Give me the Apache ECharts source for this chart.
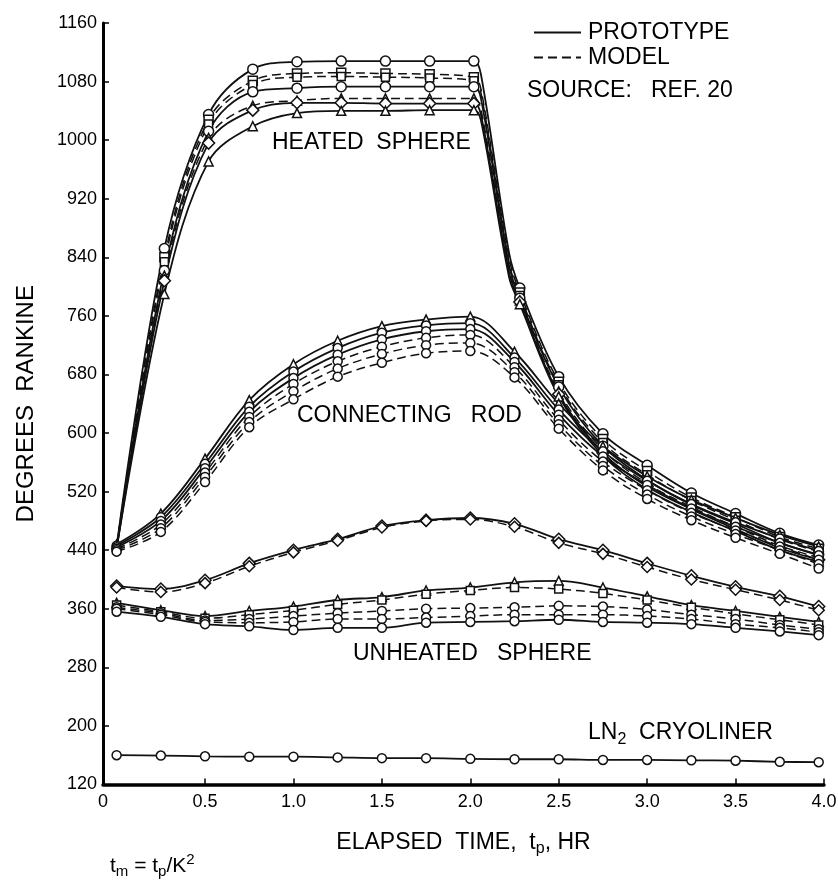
<!DOCTYPE html>
<html><head><meta charset="utf-8">
<script src="https://cdn.jsdelivr.net/npm/echarts@6/dist/echarts.min.js"></script>
<style>html,body{margin:0;padding:0;background:#fff}#c{width:838px;height:882px}</style>
</head><body><div id="c"></div>
<script>
// ---------- data ----------
const xTickValues = [-0.077, 0.5, 1.0, 1.5, 2.0, 2.5, 3.0, 3.5, 4.0];
const xTickLabels = ['0', '0.5', '1.0', '1.5', '2.0', '2.5', '3.0', '3.5', '4.0'];
const yTickValues = [120, 200, 280, 360, 440, 520, 600, 680, 760, 840, 920, 1000, 1080, 1160];

const times = [0, 0.25, 0.5, 0.75, 1.0, 1.25, 1.5, 1.75, 2.0, 2.25, 2.5, 2.75, 3.0, 3.25, 3.5, 3.75, 3.97];
const heatedTimes = [0, 0.27, 0.52, 0.77, 1.02, 1.27, 1.52, 1.77, 2.02, 2.06, 2.22, 2.28, 2.5, 2.75, 3.0, 3.25, 3.5, 3.75, 3.97];
const heatedMarked = [0, 1, 1, 1, 1, 1, 1, 1, 1, 0, 0, 1, 1, 1, 1, 1, 1, 1, 1];
const allMarked = [1, 1, 1, 1, 1, 1, 1, 1, 1, 1, 1, 1, 1, 1, 1, 1, 1];

// Heated sphere
const heated1 = [445, 852, 1035, 1097, 1107, 1108, 1108, 1108, 1108, 1090, 845, 798, 677, 599, 556, 518, 490, 463, 447];
const heated2 = [445, 840, 1028, 1081, 1091, 1092, 1091, 1090, 1086, 1070, 838, 792, 670, 592, 548, 512, 485, 458, 442];
const heated3 = [444, 834, 1022, 1076, 1086, 1087, 1086, 1085, 1081, 1065, 832, 788, 666, 587, 543, 508, 481, 455, 438];
const heated4 = [443, 822, 1012, 1066, 1071, 1073, 1073, 1073, 1073, 1057, 828, 784, 663, 582, 536, 502, 476, 450, 434];
const heated5 = [443, 815, 1003, 1047, 1054, 1057, 1057, 1057, 1057, 1042, 822, 781, 657, 577, 531, 499, 472, 446, 430];
const heated6 = [442, 808, 996, 1041, 1051, 1051, 1050, 1050, 1050, 1035, 818, 779, 653, 573, 527, 496, 469, 443, 427];
const heated7 = [442, 790, 971, 1019, 1037, 1040, 1040, 1041, 1041, 1027, 812, 776, 650, 569, 523, 492, 466, 440, 424];

// Connecting rod
const rod1 = [448, 490, 565, 645, 694, 726, 746, 755, 759, 711, 640, 582, 541, 509, 484, 461, 445];
const rod2 = [446, 485, 558, 636, 684, 716, 737, 747, 750, 703, 632, 575, 535, 503, 478, 456, 439];
const rod3 = [444, 480, 552, 629, 675, 707, 728, 739, 742, 697, 625, 568, 529, 497, 472, 450, 433];
const rod4 = [442, 475, 546, 622, 667, 698, 718, 730, 734, 690, 618, 561, 522, 491, 467, 445, 427];
const rod5 = [440, 470, 540, 615, 657, 688, 708, 720, 723, 683, 612, 555, 516, 486, 462, 440, 421];
const rod6 = [438, 465, 533, 608, 646, 677, 696, 709, 712, 676, 606, 549, 510, 481, 457, 435, 415];

// Unheated sphere
const unheated1 = [391, 387, 399, 422, 440, 455, 473, 481, 484, 476, 455, 440, 422, 405, 390, 377, 363];
const unheated2 = [389, 383, 395, 418, 437, 453, 471, 480, 482, 472, 450, 435, 417, 400, 386, 372, 358];
const unheated3 = [368, 358, 350, 357, 363, 372, 376, 385, 389, 396, 398, 389, 377, 365, 357, 349, 342];
const unheated4 = [365, 356, 347, 352, 358, 366, 372, 380, 385, 389, 387, 381, 372, 362, 353, 345, 338];
const unheated5 = [362, 354, 344, 346, 350, 354, 357, 360, 361, 362, 364, 363, 359, 352, 346, 338, 332];
const unheated6 = [360, 352, 342, 341, 342, 346, 346, 348, 350, 352, 352, 352, 350, 346, 339, 334, 328];
const unheated7 = [356, 349, 339, 336, 331, 334, 334, 341, 342, 343, 345, 342, 341, 339, 334, 329, 324];

// LN2 cryoliner
const cryoliner = [160, 159.5, 158.5, 158, 158, 157, 156, 156, 155, 154.5, 154.5, 153.5, 153.5, 153, 152.5, 151, 150.5];

// ---------- styling ----------
const FONT = '"Liberation Sans", Arial, sans-serif';
const INK = '#111';

function line(name, t, v, marked, dashed, symbol, size) {
  return {
    name: name, type: 'line', smooth: 0.35, animation: false, silent: true,
    symbol: symbol, symbolSize: size,
    data: t.map((x, i) => ({ value: [x, v[i]], symbol: marked[i] ? symbol : 'none' })),
    lineStyle: { color: INK, width: dashed ? 1.5 : 1.8, type: dashed ? [9, 5] : 'solid' },
    itemStyle: { color: '#fff', borderColor: INK, borderWidth: 1.5 }
  };
}

const series = [
  line('Heated 1', heatedTimes, heated1, heatedMarked, false, 'circle', 10),
  line('Heated 2', heatedTimes, heated2, heatedMarked, true, 'rect', 9),
  line('Heated 3', heatedTimes, heated3, heatedMarked, true, 'rect', 8),
  line('Heated 4', heatedTimes, heated4, heatedMarked, false, 'circle', 10),
  line('Heated 5', heatedTimes, heated5, heatedMarked, true, 'triangle', 9),
  line('Heated 6', heatedTimes, heated6, heatedMarked, false, 'diamond', 12),
  line('Heated 7', heatedTimes, heated7, heatedMarked, false, 'triangle', 9),
  line('Rod 1', times, rod1, allMarked, false, 'triangle', 9),
  line('Rod 2', times, rod2, allMarked, false, 'circle', 9),
  line('Rod 3', times, rod3, allMarked, false, 'circle', 9),
  line('Rod 4', times, rod4, allMarked, true, 'circle', 9),
  line('Rod 5', times, rod5, allMarked, true, 'circle', 9),
  line('Rod 6', times, rod6, allMarked, true, 'circle', 9),
  line('Unheated 1', times, unheated1, allMarked, false, 'diamond', 12),
  line('Unheated 2', times, unheated2, allMarked, true, 'diamond', 11),
  line('Unheated 3', times, unheated3, allMarked, false, 'triangle', 9),
  line('Unheated 4', times, unheated4, allMarked, true, 'rect', 8),
  line('Unheated 5', times, unheated5, allMarked, true, 'circle', 9),
  line('Unheated 6', times, unheated6, allMarked, true, 'circle', 9),
  line('Unheated 7', times, unheated7, allMarked, false, 'circle', 9),
  line('LN2 cryoliner', times, cryoliner, allMarked, false, 'circle', 9),
  { name: 'PROTOTYPE', type: 'line', data: [], symbol: 'none', itemStyle: { color: INK }, lineStyle: { color: INK, width: 2, type: 'solid' } },
  { name: 'MODEL', type: 'line', data: [], symbol: 'none', itemStyle: { color: INK }, lineStyle: { color: INK, width: 2, type: [9, 5] } }
];

const chart = echarts.init(document.getElementById('c'), null, { renderer: 'canvas' });
const txt = (s, x, y, size, rich, align) => ({
  type: 'text', x: x, y: y, silent: true,
  style: { text: s, fill: '#000', fontSize: size, fontFamily: FONT, textAlign: align || 'left', textVerticalAlign: 'middle', rich: rich }
});
chart.setOption({
  backgroundColor: '#fff',
  animation: false,
  grid: { left: 103, right: 14, top: 23, bottom: 97.5, containLabel: false, outerBoundsMode: 'none' },
  legend: {
    data: ['PROTOTYPE', 'MODEL'], orient: 'vertical', left: 528, top: 16,
    itemWidth: 47, itemHeight: 12, itemGap: 2, selectedMode: false,
    itemStyle: { opacity: 0 },
    textStyle: { fontSize: 23, fontFamily: FONT, color: '#000', padding: [0, 0, 0, 2] }
  },
  xAxis: {
    type: 'value', min: xTickValues[0], max: 4.0,
    axisLine: { show: true, onZero: false, lineStyle: { color: '#000', width: 3.5 } },
    axisTick: { show: true, inside: true, length: 6, customValues: xTickValues.slice(1), lineStyle: { color: '#000', width: 1.5 } },
    axisLabel: {
      customValues: xTickValues, margin: 9, fontSize: 18, fontFamily: FONT, color: '#000',
      formatter: v => { const i = xTickValues.findIndex(x => Math.abs(x - v) < 1e-6); return i >= 0 ? xTickLabels[i] : ''; }
    },
    splitLine: { show: false },
    name: 'ELAPSED  TIME,  t{s|p}, HR', nameLocation: 'middle', nameGap: 44,
    nameTextStyle: { fontSize: 23, fontFamily: FONT, color: '#000', rich: { s: { fontSize: 16, fontFamily: FONT, padding: [12, 0, 0, 0] } } }
  },
  yAxis: {
    type: 'value', min: 120, max: 1160,
    axisLine: { show: true, onZero: false, lineStyle: { color: '#000', width: 3 } },
    axisTick: { show: true, inside: true, length: 6, customValues: yTickValues, lineStyle: { color: '#000', width: 1.5 } },
    axisLabel: { customValues: yTickValues, margin: 6, fontSize: 18, fontFamily: FONT, color: '#000', formatter: v => String(v) },
    splitLine: { show: false },
    name: 'DEGREES  RANKINE', nameLocation: 'middle', nameGap: 65, nameRotate: 90,
    nameTextStyle: { fontSize: 24, fontFamily: FONT, color: '#000' }
  },
  graphic: [
    txt('SOURCE:   REF. 20', 527, 91, 23),
    txt('HEATED  SPHERE', 272, 142.5, 23),
    txt('CONNECTING   ROD', 297, 416, 23),
    txt('UNHEATED   SPHERE', 353, 654, 23),
    txt('LN{s|2}  CRYOLINER', 588, 733, 23, { s: { fontSize: 16, fontFamily: FONT, padding: [14, 0, 0, 0] } }),
    txt('t{s|m} = t{s|p}/K{u|2}', 110, 866, 21, {
      s: { fontSize: 15, fontFamily: FONT, padding: [12, 0, 0, 0] },
      u: { fontSize: 15, fontFamily: FONT, padding: [0, 0, 12, 0] }
    })
  ],
  series: series
});
</script>
</body></html>
